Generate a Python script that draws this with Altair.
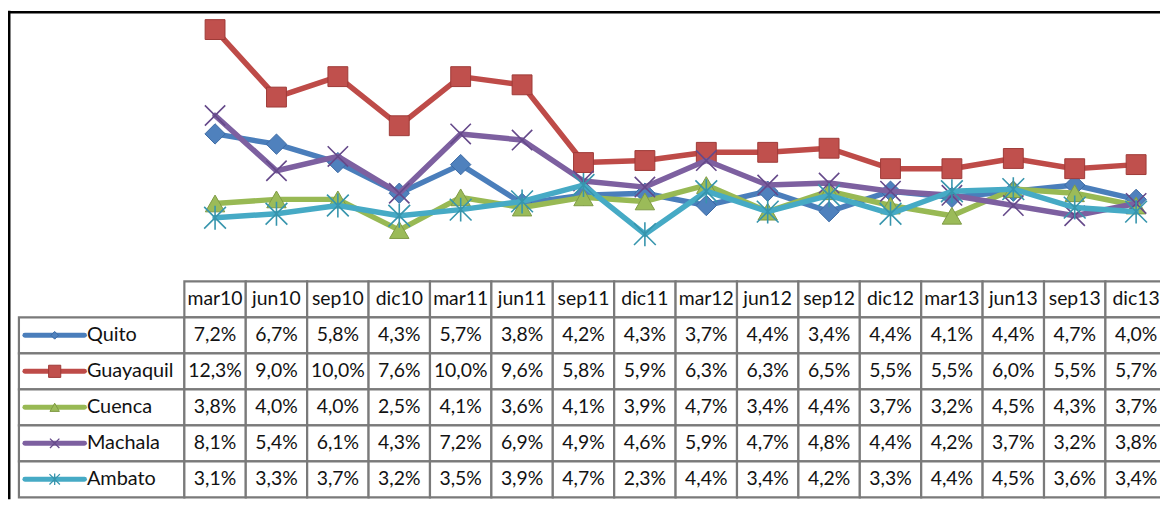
import altair as alt
import pandas as pd

# ---------------- data ----------------
periods = ["mar10", "jun10", "sep10", "dic10", "mar11", "jun11", "sep11", "dic11",
           "mar12", "jun12", "sep12", "dic12", "mar13", "jun13", "sep13", "dic13"]
series_names = ["Quito", "Guayaquil", "Cuenca", "Machala", "Ambato"]
quito = [7.2, 6.7, 5.8, 4.3, 5.7, 3.8, 4.2, 4.3, 3.7, 4.4, 3.4, 4.4, 4.1, 4.4, 4.7, 4.0]
guayaquil = [12.3, 9.0, 10.0, 7.6, 10.0, 9.6, 5.8, 5.9, 6.3, 6.3, 6.5, 5.5, 5.5, 6.0, 5.5, 5.7]
cuenca = [3.8, 4.0, 4.0, 2.5, 4.1, 3.6, 4.1, 3.9, 4.7, 3.4, 4.4, 3.7, 3.2, 4.5, 4.3, 3.7]
machala = [8.1, 5.4, 6.1, 4.3, 7.2, 6.9, 4.9, 4.6, 5.9, 4.7, 4.8, 4.4, 4.2, 3.7, 3.2, 3.8]
ambato = [3.1, 3.3, 3.7, 3.2, 3.5, 3.9, 4.7, 2.3, 4.4, 3.4, 4.2, 3.3, 4.4, 4.5, 3.6, 3.4]
all_values = [quito, guayaquil, cuenca, machala, ambato]

# ---------------- styles ----------------
line_colors = ["#4a7ebb", "#be4b48", "#98b954", "#7d60a0", "#46aac5"]
fill_colors = ["#4f81bd", "#c0504d", "#9bbb59", "#8064a2", "#4bacc6"]
edge_colors = ["#3b6aa3", "#9e3a37", "#7f9a45", "#65498a", "#3795ad"]
X_PATH = "M-1,-1L1,1M-1,1L1,-1"
STAR_PATH = "M-1,-1L1,1M-1,1L1,-1M0,-1.1L0,1.1"
shapes = ["diamond", "square", "triangle-up", X_PATH, STAR_PATH]
filled = [True, True, True, False, False]
big_sizes = [420, 400, 380, 420, 480]
small_sizes = [60, 150, 90, 90, 110]
FONT = "Lato"
FS_LABEL = 20
FS_NUM = 19.5

# ---------------- layout / scales ----------------
W, H = 1160, 493
COL_W = 61.83
FIRST_X = 208.5
x_dom = [-FIRST_X / COL_W, (W - FIRST_X) / COL_W]
PX = 20.6
ZERO_Y = 273.4
y_dom = [(ZERO_Y - H) / PX, ZERO_Y / PX]
ROW_H = 36.25
TOP = 273.5
t_dom = [-(TOP + ROW_H / 2) / ROW_H, (H - TOP - ROW_H / 2) / ROW_H]

xs = alt.Scale(domain=x_dom, nice=False, zero=False)
ys = alt.Scale(domain=y_dom, nice=False, zero=False)
ts = alt.Scale(domain=t_dom, nice=False, zero=False, reverse=True)

def px_to_idx(p):
    return (p - FIRST_X) / COL_W

LABEL_LEFT = px_to_idx(11)
LEG_X0 = px_to_idx(17)
LEG_X1 = px_to_idx(77)
LEG_MK = px_to_idx(47)
TEXT_X = px_to_idx(79.5)

def fmt(v):
    return f"{v:.1f}".replace(".", ",") + "%"

# long data for lines
long_rows = []
for name, vals in zip(series_names, all_values):
    for i, v in enumerate(vals):
        long_rows.append({"series": name, "idx": i, "value": v})
long_df = pd.DataFrame(long_rows)

# table cells
cells = []
for i in range(len(periods)):
    cells.append({"x0": i - 0.5, "x1": i + 0.5, "y0": -0.5, "y1": 0.5})
for r in range(1, len(series_names) + 1):
    cells.append({"x0": LABEL_LEFT, "x1": -0.5, "y0": r - 0.5, "y1": r + 0.5})
    for i in range(len(periods)):
        cells.append({"x0": i - 0.5, "x1": i + 0.5, "y0": r - 0.5, "y1": r + 0.5})
cells_df = pd.DataFrame(cells)

texts = []
for i, p in enumerate(periods):
    texts.append({"i": i, "r": 0, "t": p})
for r, vals in enumerate(all_values, start=1):
    for i, v in enumerate(vals):
        texts.append({"i": i, "r": r, "t": fmt(v)})
texts_df = pd.DataFrame(texts)

labels_df = pd.DataFrame({"i": [TEXT_X] * len(series_names),
                          "r": list(range(1, len(series_names) + 1)),
                          "t": series_names})

one = pd.DataFrame({"a": [0]})

layers = []

# frame
layers.append(alt.Chart(one).mark_rule(color="black", strokeWidth=2.5).encode(
    x=alt.value(1.25), y=alt.value(1), y2=alt.value(H)))
layers.append(alt.Chart(one).mark_rule(color="black", strokeWidth=2.5).encode(
    x=alt.value(0), x2=alt.value(W), y=alt.value(2.5)))

# table
layers.append(alt.Chart(cells_df).mark_rect(fill="white", stroke="#7a7a7a", strokeWidth=2.2).encode(
    x=alt.X("x0:Q", scale=xs, axis=None), x2="x1:Q",
    y=alt.Y("y0:Q", scale=ts, axis=None), y2="y1:Q"))
layers.append(alt.Chart(texts_df).mark_text(font=FONT, fontSize=FS_NUM, color="#121212",
                                             align="center", baseline="middle").encode(
    x=alt.X("i:Q", scale=xs, axis=None), y=alt.Y("r:Q", scale=ts, axis=None), text="t:N"))
layers.append(alt.Chart(labels_df).mark_text(font=FONT, fontSize=FS_LABEL, color="#121212",
                                              align="left", baseline="middle").encode(
    x=alt.X("i:Q", scale=xs, axis=None), y=alt.Y("r:Q", scale=ts, axis=None), text="t:N"))

# legend samples
for k, name in enumerate(series_names):
    r = k + 1
    seg = pd.DataFrame({"x0": [LEG_X0], "x1": [LEG_X1], "r": [r]})
    layers.append(alt.Chart(seg).mark_rule(color=line_colors[k], strokeWidth=5, strokeCap="round").encode(
        x=alt.X("x0:Q", scale=xs, axis=None), x2="x1:Q", y=alt.Y("r:Q", scale=ts, axis=None)))
    mk = pd.DataFrame({"x": [LEG_MK], "r": [r]})
    if filled[k]:
        m = alt.Chart(mk).mark_point(shape=shapes[k], filled=True, size=small_sizes[k],
                                     fill=fill_colors[k], stroke=edge_colors[k], strokeWidth=1, opacity=1)
    else:
        m = alt.Chart(mk).mark_point(shape=shapes[k], filled=False, size=small_sizes[k],
                                     stroke=edge_colors[k], strokeWidth=1.3, opacity=1)
    layers.append(m.encode(x=alt.X("x:Q", scale=xs, axis=None), y=alt.Y("r:Q", scale=ts, axis=None)))

# lines and markers
for k, name in enumerate(series_names):
    base = alt.Chart(long_df).transform_filter(alt.datum.series == name)
    enc = dict(x=alt.X("idx:Q", scale=xs, axis=None), y=alt.Y("value:Q", scale=ys, axis=None))
    layers.append(base.mark_line(color=line_colors[k], strokeWidth=5.5, strokeJoin="round",
                                 strokeCap="round").encode(**enc))
    if filled[k]:
        m = base.mark_point(shape=shapes[k], filled=True, size=big_sizes[k],
                            fill=fill_colors[k], stroke=edge_colors[k], strokeWidth=1, opacity=1)
    else:
        m = base.mark_point(shape=shapes[k], filled=False, size=big_sizes[k],
                            stroke=edge_colors[k], strokeWidth=1.6, opacity=1)
    layers.append(m.encode(**enc))

chart = alt.layer(*layers).resolve_scale(y="independent").properties(
    width=W, height=H, padding=0,
    autosize=alt.AutoSizeParams(type="none"),
    background="white",
).configure_view(stroke=None)

chart.save("out.html", embed_options={"renderer": "svg", "actions": False})
